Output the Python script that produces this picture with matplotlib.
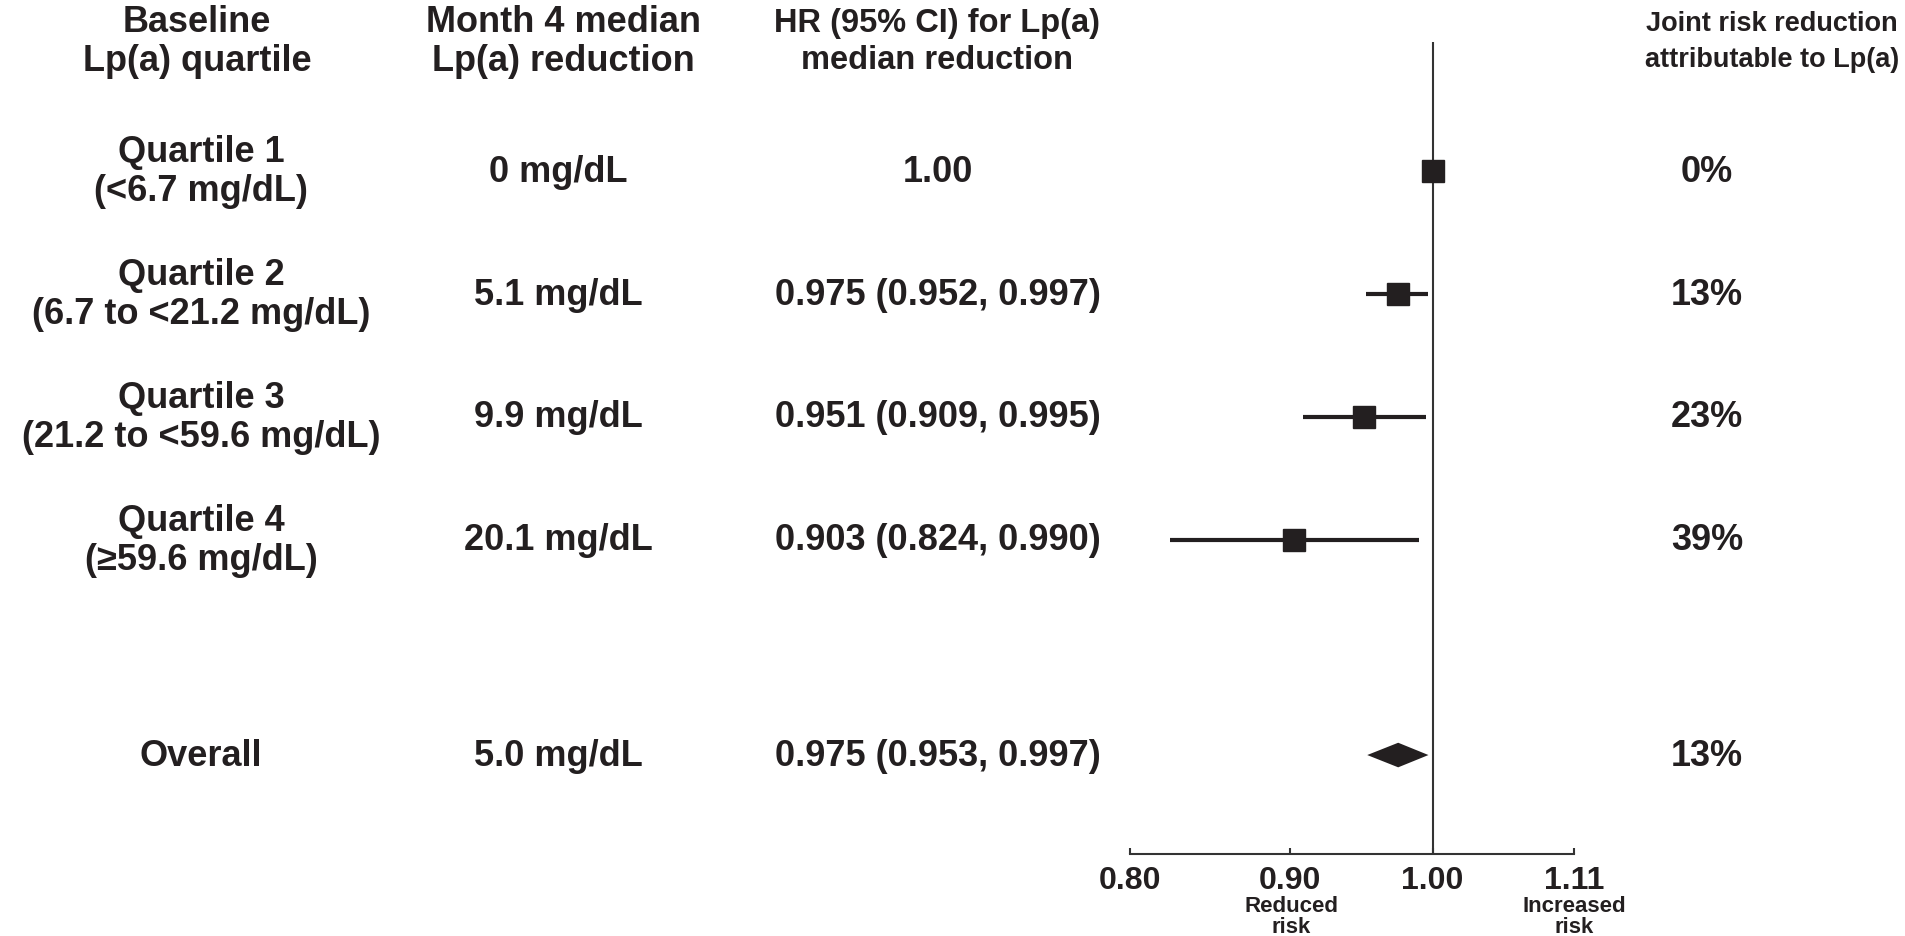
import matplotlib
matplotlib.use('Agg')
import matplotlib.pyplot as plt
import matplotlib.transforms as mtransforms
from matplotlib.ticker import FixedLocator, NullLocator

plt.rcParams['font.family'] = ['Liberation Sans', 'DejaVu Sans']
plt.rcParams['font.weight'] = 'bold'

# data
quartiles = ['Quartile 1\n(<6.7 mg/dL)', 'Quartile 2\n(6.7 to <21.2 mg/dL)',
             'Quartile 3\n(21.2 to <59.6 mg/dL)', 'Quartile 4\n(\u226559.6 mg/dL)']
reduction = ['0 mg/dL', '5.1 mg/dL', '9.9 mg/dL', '20.1 mg/dL']
hr = [1.00, 0.975, 0.951, 0.903]
ci_lo = [1.00, 0.952, 0.909, 0.824]
ci_hi = [1.00, 0.997, 0.995, 0.990]
hr_text = ['1.00', '0.975 (0.952, 0.997)', '0.951 (0.909, 0.995)', '0.903 (0.824, 0.990)']
joint = ['0%', '13%', '23%', '39%']

overall_label = 'Overall'
overall_red = '5.0 mg/dL'
overall_hr = 0.975
overall_lo = 0.953
overall_hi = 0.997
overall_text = '0.975 (0.953, 0.997)'
overall_joint = '13%'

xticks = [0.80, 0.90, 1.00, 1.11]
xtick_labels = ['0.80', '0.90', '1.00', '1.11']

ink = '#231f20'
W, H = 1905, 937
fig = plt.figure(figsize=(W / 100, H / 100), dpi=100)
ax = fig.add_axes([1130 / W, 82 / H, 444 / W, 812 / H])

rows = list(range(len(hr)))
y_overall = 4.75

ax.set_xscale('log')
ax.set_xlim(0.80, 1.11)
ax.set_ylim(5.555, -1.05)

ax.axvline(1.0, color='#333333', lw=1.5, zorder=1)

for y, h, lo, hi in zip(rows, hr, ci_lo, ci_hi):
    if hi > lo:
        ax.plot([lo, hi], [y, y], color=ink, lw=3, solid_capstyle='butt', zorder=2)
    ax.plot(h, y, marker='s', ms=16.5, color=ink, mec=ink, zorder=3)

dh = 0.1
ax.fill([overall_lo, overall_hr, overall_hi, overall_hr],
        [y_overall, y_overall - dh, y_overall, y_overall + dh], color=ink, lw=0, zorder=3)

for s in ['top', 'right', 'left']:
    ax.spines[s].set_visible(False)
ax.spines['bottom'].set_color('#333333')
ax.spines['bottom'].set_linewidth(1.5)
ax.yaxis.set_major_locator(NullLocator())
ax.xaxis.set_major_locator(FixedLocator(xticks))
ax.xaxis.set_minor_locator(NullLocator())
ax.set_xticklabels(xtick_labels)
ax.tick_params(axis='x', direction='in', length=4, width=1.5, color='#333333',
               labelsize=23, labelcolor=ink, pad=8)
for lab in ax.get_xticklabels():
    lab.set_fontweight('bold')

# little labels below the axis
fig.text(1291 / W, 1 - 917 / H, 'Reduced\nrisk', ha='center', va='center', fontsize=16,
         color=ink, linespacing=1.0)
fig.text(1574 / W, 1 - 917 / H, 'Increased\nrisk', ha='center', va='center', fontsize=16,
         color=ink, linespacing=1.0)

# column text
trans = mtransforms.blended_transform_factory(fig.transFigure, ax.transData)
fs = 26
col_x = [201 / W, 558 / W, 938 / W, 1707 / W]

hy = 1 - 42 / H
fig.text(197 / W, hy, 'Baseline\nLp(a) quartile', ha='center', va='center', fontsize=fs,
         color=ink, linespacing=1.16)
fig.text(563 / W, hy, 'Month 4 median\nLp(a) reduction', ha='center', va='center', fontsize=fs,
         color=ink, linespacing=1.16)
fig.text(937 / W, hy, 'HR (95% CI) for Lp(a)\nmedian reduction', ha='center', va='center',
         fontsize=23.5, color=ink, linespacing=1.28)
fig.text(1772 / W, hy, 'Joint risk reduction\nattributable to Lp(a)', ha='center', va='center',
         fontsize=19.5, color=ink, linespacing=1.5)

for y, q, r, t, j in zip(rows, quartiles, reduction, hr_text, joint):
    for x, s in zip(col_x, [q, r, t, j]):
        ax.text(x, y, s, transform=trans, ha='center', va='center', fontsize=fs,
                color=ink, linespacing=1.12)

for x, s in zip(col_x, [overall_label, overall_red, overall_text, overall_joint]):
    ax.text(x, y_overall, s, transform=trans, ha='center', va='center', fontsize=fs, color=ink)

fig.savefig('out.png', dpi=100, facecolor='white')
